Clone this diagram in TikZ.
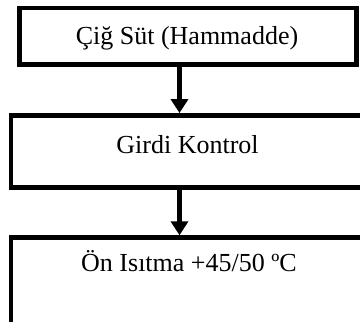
\documentclass[tikz,border=0pt]{standalone}
\usepackage{fontspec}
\setmainfont{Liberation Serif}
\usetikzlibrary{arrows.meta}
\begin{document}
\begin{tikzpicture}[x=1pt,y=1pt,
  box/.style={draw=black,line width=4.5pt,fill=white,inner sep=0pt},
  lbl/.style={inner sep=0pt,anchor=base,font=\fontsize{26}{30}\selectfont},
  arr/.style={line width=4.5pt,-{Triangle[width=17pt,length=14pt]}}]
\useasboundingbox (0,0) rectangle (360,-322);
\clip (0,0) rectangle (360,-322);
\node[box,minimum width=337pt,minimum height=56.5pt] (b1) at (188,-36.25) {};
\node[box,minimum width=354pt,minimum height=72pt] (b2) at (188,-151.3) {};
\node[box,minimum width=354pt,minimum height=140pt,anchor=north] (b3) at (188,-235.3) {};
\node[lbl] (t1) at (187,-44) {Çiğ Süt (Hammadde)};
\node[lbl] (t2) at (187.5,-153) {Girdi Kontrol};
\node[lbl] (t3) at (189,-271) {Ön Isıtma +45/50 ºC};
\coordinate (ax) at (179.5,0);
\draw[arr] (b1.south -| ax) -- (b2.north -| ax);
\draw[arr] (b2.south -| ax) -- (b3.north -| ax);
\end{tikzpicture}
\end{document}
